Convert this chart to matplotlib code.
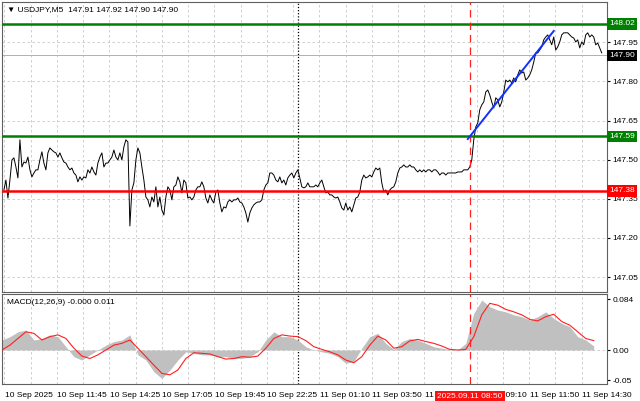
import numpy as np
import matplotlib.pyplot as plt

plt.rcParams['font.family'] = ['Liberation Sans', 'DejaVu Sans']

# prices, one reading every 2 px starting at x=2
price = [
    147.384, 147.422, 147.353, 147.422, 147.499, 147.507, 147.472, 147.430, 147.576, 147.472,
    147.491, 147.487, 147.510, 147.461, 147.434, 147.449, 147.461, 147.461, 147.499, 147.530,
    147.487, 147.461, 147.526, 147.545, 147.537, 147.530, 147.526, 147.510, 147.526, 147.507,
    147.491, 147.487, 147.472, 147.461, 147.468, 147.449, 147.441, 147.415, 147.434, 147.422,
    147.434, 147.430, 147.461, 147.449, 147.472, 147.453, 147.441, 147.487, 147.510, 147.526,
    147.472, 147.487, 147.487, 147.499, 147.510, 147.537, 147.510, 147.499, 147.526, 147.499,
    147.549, 147.576, 147.568, 147.246, 147.384, 147.411, 147.499, 147.545, 147.526, 147.472,
    147.422, 147.357, 147.346, 147.319, 147.357, 147.338, 147.396, 147.319, 147.357, 147.307,
    147.288, 147.357, 147.396, 147.384, 147.346, 147.396, 147.403, 147.434, 147.415, 147.373,
    147.422, 147.411, 147.353, 147.357, 147.346, 147.357, 147.384, 147.396, 147.396, 147.415,
    147.396, 147.353, 147.334, 147.365, 147.346, 147.334, 147.376, 147.384, 147.334, 147.300,
    147.319, 147.315, 147.338, 147.346, 147.338, 147.346, 147.346, 147.353, 147.338, 147.334,
    147.319, 147.296, 147.261, 147.296, 147.315, 147.327, 147.334, 147.338, 147.338, 147.346,
    147.384, 147.403, 147.411, 147.449, 147.449, 147.441, 147.422, 147.415, 147.434, 147.411,
    147.422, 147.403, 147.430, 147.441, 147.449, 147.430, 147.449, 147.461, 147.430, 147.396,
    147.392, 147.396, 147.411, 147.396, 147.396, 147.396, 147.403, 147.396, 147.411, 147.422,
    147.396, 147.373, 147.376, 147.365, 147.365, 147.357, 147.353, 147.357, 147.338, 147.315,
    147.307, 147.334, 147.307, 147.319, 147.300, 147.327, 147.353, 147.357, 147.376, 147.422,
    147.441, 147.430, 147.434, 147.441, 147.434, 147.453, 147.468, 147.461, 147.468, 147.411,
    147.376, 147.384, 147.365, 147.384, 147.392, 147.396, 147.415, 147.449, 147.468, 147.472,
    147.480, 147.472, 147.472, 147.480, 147.472, 147.472, 147.461, 147.453, 147.461, 147.453,
    147.461, 147.453, 147.461, 147.461, 147.453, 147.461, 147.461, 147.453, 147.441, 147.449,
    147.449, 147.441, 147.449, 147.449, 147.449, 147.449, 147.449, 147.453, 147.453, 147.453,
    147.461, 147.461, 147.461, 147.472, 147.499, 147.576, 147.625, 147.641, 147.691, 147.710,
    147.721, 147.759, 147.767, 147.748, 147.721, 147.698, 147.737, 147.729, 147.702, 147.721,
    147.759, 147.805, 147.798, 147.805, 147.794, 147.813, 147.798, 147.825, 147.844, 147.832,
    147.836, 147.805, 147.813, 147.825, 147.844, 147.874, 147.909, 147.909, 147.920, 147.932,
    147.959, 147.970, 147.978, 147.959, 147.940, 147.970, 147.920, 147.932, 147.951, 147.978,
    147.986, 147.986, 147.986, 147.978, 147.970, 147.966, 147.951, 147.959, 147.928, 147.951,
    147.940, 147.978, 147.986, 147.970, 147.978, 147.970, 147.940, 147.947, 147.928, 147.909,
]

# MACD histogram and signal, one reading every 8 px
macd_hist = [
    0.0165, 0.022, 0.030, 0.033, 0.0165, 0.019, 0.025, 0.022, 0.0055, -0.011,
    -0.0165, -0.008, 0.0, 0.008, 0.014, 0.0165, 0.025, -0.008, -0.0165, -0.036,
    -0.047, -0.033, -0.0165, -0.003, -0.0055, -0.008, -0.008, -0.011, -0.011, -0.014,
    -0.014, -0.011, -0.003, 0.0165, 0.030, 0.022, 0.022, 0.0165, 0.0055, 0.0,
    -0.003, -0.0055, -0.011, -0.022, -0.019, 0.003, 0.022, 0.0275, 0.011, 0.001,
    0.014, 0.019, 0.0165, 0.011, 0.0055, 0.003, 0.001, 0.0, 0.011, 0.0605,
    0.0825, 0.0715, 0.066, 0.063, 0.058, 0.055, 0.0495, 0.055, 0.063, 0.052,
    0.044, 0.0385, 0.0220, 0.0165, 0.0066,
]
macd_signal = [
    0.0, 0.008, 0.019, 0.030, 0.0275, 0.0165, 0.022, 0.025, 0.019, 0.003,
    -0.010, -0.014, -0.008, 0.0, 0.008, 0.011, 0.0165, 0.003, -0.011, -0.025,
    -0.0385, -0.041, -0.033, -0.014, -0.0045, -0.0055, -0.0066, -0.011, -0.015, -0.014,
    -0.011, -0.012, -0.010, 0.003, 0.019, 0.025, 0.023, 0.022, 0.0155, 0.0055,
    0.001, -0.003, -0.008, -0.0165, -0.021, -0.011, 0.008, 0.023, 0.0165, 0.003,
    0.0055, 0.015, 0.0175, 0.014, 0.011, 0.0066, 0.001, 0.0, 0.001, 0.022,
    0.058, 0.077, 0.074, 0.067, 0.063, 0.058, 0.0505, 0.048, 0.055, 0.059,
    0.047, 0.041, 0.030, 0.019, 0.0155,
]

time_labels = ['10 Sep 2025', '10 Sep 11:45', '10 Sep 14:25', '10 Sep 17:05', '10 Sep 19:45',
               '10 Sep 22:25', '11 Sep 01:10', '11 Sep 03:50', '11 Sep 06:30', '11 Sep 09:10',
               '11 Sep 11:50', '11 Sep 14:30']
price_ticks = [147.05, 147.20, 147.35, 147.50, 147.65, 147.80, 147.95]
levels = {148.02: 'green', 147.59: 'green', 147.38: 'red'}
last_price = 147.90
trend = ([466, 552], [147.579, 147.993])

x_price = 2 + 2 * np.arange(len(price))
x_macd = 8 * np.arange(len(macd_hist))
x_grid = 2.5 + 26.25 * np.arange(24)
x_labels = 3 + 52.5 * np.arange(len(time_labels))
x_news = 468
x_day = 296
fs = 6.0

fig = plt.figure(figsize=(6.4, 4.01), dpi=100)
ax = fig.add_axes([0.003, 0.2718, 0.945, 0.7232])
ax2 = fig.add_axes([0.003, 0.0424, 0.945, 0.2244])

for a in (ax, ax2):
    a.set_xlim(0, 605)
    for xg in x_grid:
        a.axvline(xg, color='#c8c8c8', ls=(0, (3, 3)), lw=0.6, zorder=0)
    a.axvline(x_day, color='black', ls=(0, (1, 1.5)), lw=0.9, zorder=1)
    a.axvline(x_news, color='#ff2020', ls=(0, (6, 4)), lw=0.9, zorder=4)
    a.yaxis.tick_right()
    a.tick_params(axis='y', labelsize=fs, length=2, pad=2)
    a.set_xticks([])
    for s in a.spines.values():
        s.set_color('#606060')

# main price panel
ax.set_ylim(146.993, 148.104)
for p in price_ticks:
    ax.axhline(p, color='#c8c8c8', ls=(0, (3, 3)), lw=0.6, zorder=0)
ax.set_yticks(price_ticks)
ax.set_yticklabels([f'{p:.2f}' for p in price_ticks])
ax.axhline(last_price, color='#b0b0b0', lw=0.7, zorder=1)
for lvl, c in levels.items():
    ax.axhline(lvl, color=c, lw=1.8, zorder=3)
ax.plot(x_price, price, color='black', lw=0.7, zorder=2)
ax.plot(trend[0], trend[1], color='#1030ff', lw=1.4, zorder=5)

for lvl, c in list(levels.items()) + [(last_price, 'black')]:
    ax.text(1.004, lvl, f'{lvl:.2f}', transform=ax.get_yaxis_transform(), fontsize=fs,
            color='white', va='center', ha='left', clip_on=False,
            bbox=dict(boxstyle='square,pad=0.25', fc=c, ec='none'))

ax.text(0.008, 0.985, '▼ USDJPY,M5  147.91 147.92 147.90 147.90', transform=ax.transAxes,
        fontsize=fs, va='top', ha='left')

# MACD panel
ax2.set_ylim(-0.0561, 0.0924)
ax2.axhline(0, color='#c8c8c8', ls=(0, (3, 3)), lw=0.6, zorder=0)
ax2.fill_between(x_macd, 0, macd_hist, color='#c0c0c0', lw=0, zorder=2)
ax2.plot(x_macd, macd_signal, color='#ff2020', lw=0.8, zorder=3)
ax2.set_yticks([0.084, 0.0, -0.05])
ax2.set_yticklabels(['0.084', '0.00', '-0.05'])
ax2.text(0.008, 0.95, 'MACD(12,26,9) -0.000 0.011', transform=ax2.transAxes,
         fontsize=fs, va='top', ha='left')

for xl, lab in zip(x_labels, time_labels):
    ax2.text(xl, -0.07, lab, fontsize=fs, ha='left', va='top', clip_on=False)
ax2.text(x_news, -0.0715, '2025.09.11 08:50', fontsize=fs, ha='center', va='top',
         color='white', clip_on=False,
         bbox=dict(boxstyle='square,pad=0.25', fc='#ff1010', ec='none'), zorder=6)

fig.savefig('out.png', dpi=100)
